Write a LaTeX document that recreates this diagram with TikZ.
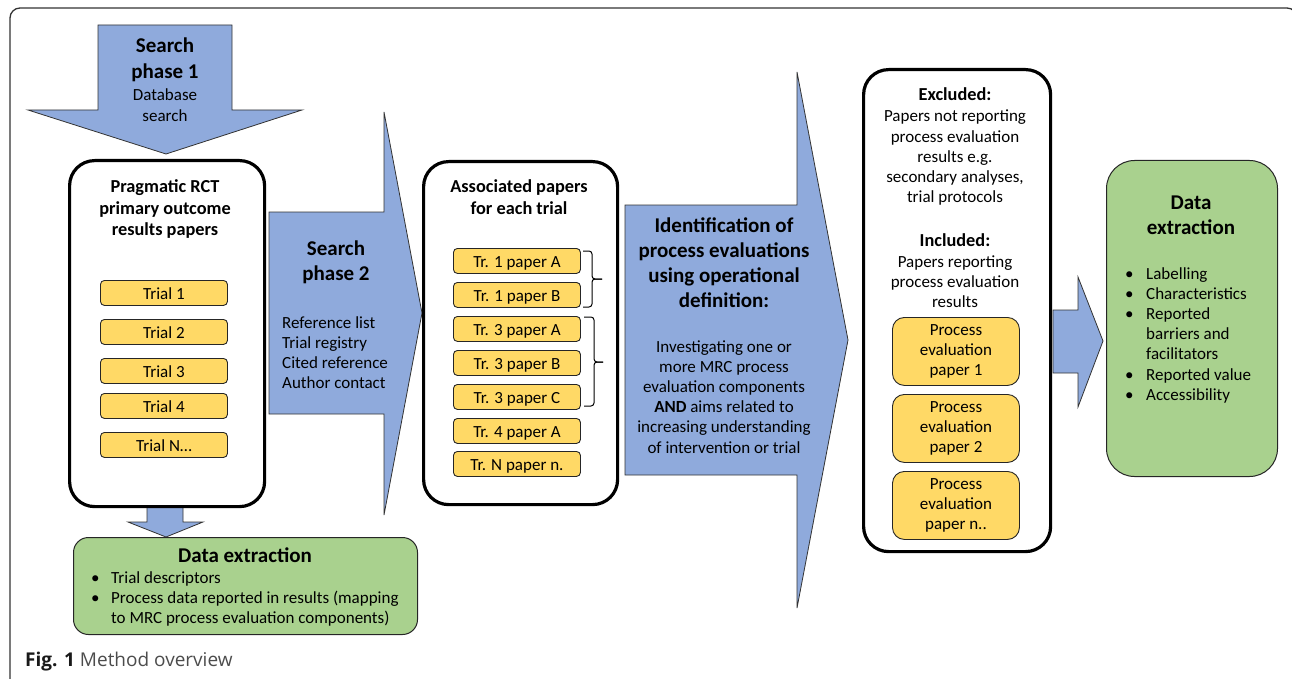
\documentclass[tikz,border=0pt]{standalone}
\usepackage{fontspec}
\setmainfont{Carlito}
\newfontfamily\capfont{Open Sans}
\usetikzlibrary{calc}
\definecolor{arrowblue}{HTML}{8FAADC}
\definecolor{paperyellow}{HTML}{FFD966}
\definecolor{extractgreen}{HTML}{A9D18E}
\newcommand{\mlc}[1]{\begin{tabular}[t]{@{}c@{}}#1\end{tabular}}
\newcommand{\fsn}{\fontsize{17}{20.2}\selectfont}
\newcommand{\fsb}{\fontsize{21}{25.5}\selectfont\bfseries}
\newcommand{\fsm}{\fontsize{18.3}{21.5}\selectfont\bfseries}
\tikzset{
  bluearrow/.style={fill=arrowblue, draw=black!80, line width=0.8pt, line join=miter},
  bigbox/.style={draw=black, line width=3.2pt, fill=white, rounded corners=25pt, inner sep=0pt, anchor=north west},
  ybox/.style={draw=black!85, line width=0.9pt, fill=paperyellow, rounded corners=4pt, inner sep=0pt,
     anchor=north west, minimum width=127pt, minimum height=25pt, text height=13.5pt, text depth=0pt, font=\fsn},
  pebox/.style={draw=black!85, line width=0.9pt, fill=paperyellow, rounded corners=12pt, inner sep=0pt,
     anchor=north west, minimum width=127pt, minimum height=68pt},
  gbox/.style={draw=black!85, line width=1pt, fill=extractgreen, inner sep=0pt, anchor=north west},
  txt/.style={anchor=base, inner sep=0pt},
  txtl/.style={anchor=base west, inner sep=0pt},
  bracket/.style={draw=black, line width=1pt, rounded corners=3pt}
}
\begin{document}
\begin{tikzpicture}[x=1pt,y=-1pt]
\useasboundingbox (0,0) rectangle (1292,679);
\clip (0,0) rectangle (1292,679);
% outer frame
\draw[line width=1.3pt, black!80, rounded corners=10pt] (10,8) rectangle (1297,692);

% blue block arrows
\draw[bluearrow] (98,25) -- (232,25) -- (232,110) -- (302,110) -- (166,154) -- (28,110) -- (98,110) -- cycle;
\draw[bluearrow] (269,212) -- (384,212) -- (384,112) -- (422,313) -- (384,515) -- (384,414) -- (269,414) -- cycle;
\draw[bluearrow] (625,205) -- (797,205) -- (797,72) -- (848,340) -- (797,608) -- (797,475) -- (625,475) -- cycle;
\draw[bluearrow] (1053,310) -- (1078,310) -- (1078,277) -- (1103,341) -- (1078,407) -- (1078,373) -- (1053,373) -- cycle;
\draw[bluearrow] (147,506) -- (183,506) -- (183,522) -- (203,522) -- (166,537) -- (128,522) -- (147,522) -- cycle;

% search phase 1 text
\node[txt] (sp1t) at (165,53) {\fsb\mlc{Search\\phase 1}};
\node[txt] (sp1s) at (165,101) {\fsn\mlc{Database\\search}};

% pragmatic box
\node[bigbox, minimum width=195pt, minimum height=346pt] (prag) at (68,159) {};
\node[txt] (pragt) at (165,193) {\fsm\mlc{Pragmatic RCT\\primary outcome\\results papers}};
\node[ybox] (t1) at (100,280) {Trial 1};
\node[ybox] (t2) at (100,319) {Trial 2};
\node[ybox] (t3) at (100,358) {Trial 3};
\node[ybox] (t4) at (100,393) {Trial 4};
\node[ybox] (tn) at (100,432) {Trial N…};

% search phase 2 text
\node[txt] (sp2t) at (336,255) {\fsb\mlc{Search\\phase 2}};
\node[txtl] (sp2s) at (282,328) {\fsn\begin{tabular}[t]{@{}l@{}}Reference list\\Trial registry\\Cited reference\\Author contact\end{tabular}};

% associated papers box
\node[bigbox, minimum width=194pt, minimum height=343pt] (assoc) at (422,160) {};
\node[txt] (assoct) at (519,193) {\fsm\mlc{Associated papers\\for each trial}};
\node[ybox] (p1a) at (453,248) {Tr. 1 paper A};
\node[ybox] (p1b) at (453,282) {Tr. 1 paper B};
\node[ybox] (p3a) at (453,316) {Tr. 3 paper A};
\node[ybox] (p3b) at (453,350) {Tr. 3 paper B};
\node[ybox] (p3c) at (453,384) {Tr. 3 paper C};
\node[ybox] (p4a) at (453,418) {Tr. 4 paper A};
\node[ybox] (pnn) at (453,451) {Tr. N paper n.};
\draw[bracket] (583,251) -- (592,251) -- (592,279) -- (602,279);
\draw[bracket] (602,279) -- (592,279) -- (592,307) -- (583,307);
\draw[bracket] (584,317) -- (594,317) -- (594,362) -- (603,362);
\draw[bracket] (603,362) -- (594,362) -- (594,406) -- (584,406);

% identification text
\node[txt] (idt) at (724,232) {\fontsize{21}{25}\selectfont\bfseries\mlc{Identification of\\process evaluations\\using operational\\definition:}};
\node[txt] (ids) at (724,352) {\fsn\mlc{Investigating one or\\more MRC process\\evaluation components\\\textbf{AND} aims related to\\increasing understanding\\of intervention or trial}};

% process evaluation box
\node[bigbox, minimum width=187pt, minimum height=482pt] (pe) at (862,68) {};
\node[txt] (exct) at (955,101) {\fsm Excluded:};
\node[txt] (excs) at (955,122) {\fsn\mlc{Papers not reporting\\process evaluation\\results e.g.\\secondary analyses,\\trial protocols}};
\node[txt] (inct) at (955,246) {\fsm Included:};
\node[txt] (incs) at (955,267) {\fsn\mlc{Papers reporting\\process evaluation\\results}};
\node[pebox] (pe1) at (892,317) {\fsn\mlc{Process\\evaluation\\paper 1}};
\node[pebox] (pe2) at (892,394) {\fsn\mlc{Process\\evaluation\\paper 2}};
\node[pebox] (pen) at (892,471) {\fsn\mlc{Process\\evaluation\\paper n..}};

% right data extraction
\node[gbox, rounded corners=28pt, minimum width=171pt, minimum height=316pt] (dxr) at (1106,160) {};
\node[txt] (dxrt) at (1191,209) {\fsb\mlc{Data\\extraction}};
\node[txtl] (dxrl) at (1125,279) {\fsn\begin{tabular}[t]{@{}p{21pt}@{}l@{}}•&Labelling\\•&Characteristics\\•&Reported\\&barriers and\\&facilitators\\•&Reported value\\•&Accessibility\end{tabular}};

% bottom data extraction
\node[gbox, rounded corners=15pt, minimum width=344pt, minimum height=97pt] (dxb) at (73,537) {};
\node[txt] (dxbt) at (245,562) {\fsb Data extraction};
\node[txtl] (dxbl) at (91,583) {\fsn\begin{tabular}[t]{@{}p{20pt}@{}l@{}}•&Trial descriptors\\•&Process data reported in results (mapping\\&to MRC process evaluation components)\end{tabular}};

% caption
\node[anchor=base west, inner sep=0pt] (cap) at (25,666) {\capfont\fontsize{19}{23}\selectfont\textcolor{black!90}{\textbf{Fig. 1}} \textcolor{black!70}{Method overview}};
\end{tikzpicture}
\end{document}
